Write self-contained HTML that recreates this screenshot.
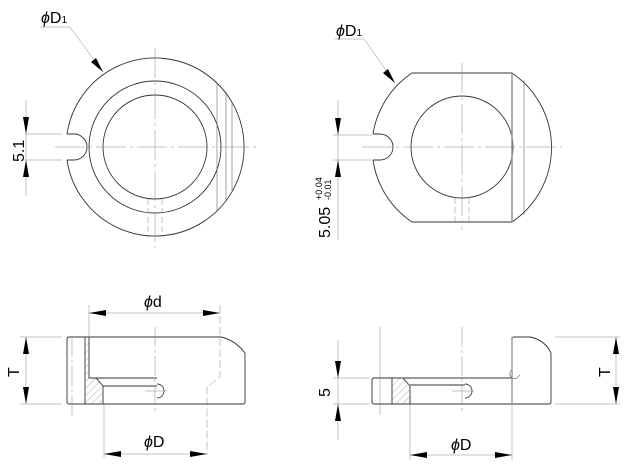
<!DOCTYPE html>
<html><head><meta charset="utf-8"><style>body{margin:0;background:#fff}svg{display:block}text{font-family:"Liberation Sans",sans-serif;fill:#000}</style></head><body>
<svg width="624" height="465" viewBox="0 0 624 465" xmlns="http://www.w3.org/2000/svg">
<defs>
<pattern id="h" width="5" height="5" patternUnits="userSpaceOnUse" patternTransform="rotate(45)"><line x1="0" y1="0" x2="0" y2="5" stroke="#777" stroke-width="0.6"/></pattern>
</defs>
<g fill="none" stroke="#333" stroke-width="0.9">
<!-- top left -->
<path d="M67,134 A89,89 0 1 1 67,160"/>
<path d="M67,134 L74,134 A13,13 0 0 1 74,160 L67,160"/>
<circle cx="155" cy="147" r="66"/>
<circle cx="155" cy="147" r="52"/>
<line x1="217" y1="83" x2="217" y2="211" stroke="#666" stroke-width="0.6"/>
<line x1="226" y1="92" x2="226" y2="202" stroke="#666" stroke-width="0.6"/>
<line x1="232" y1="102" x2="232" y2="192" stroke="#666" stroke-width="0.6"/>
<!-- top right -->
<path d="M412,73 L512,73 A90,90 0 0 1 512,222 L412,222 A90,90 0 0 1 373,160 M373,134 A90,90 0 0 1 412,73"/>
<path d="M373,134 L380,134 A13,13 0 0 1 380,160 L373,160"/>
<circle cx="462" cy="147" r="51"/>
<line x1="512" y1="73" x2="512" y2="222" stroke="#999" stroke-width="1.6"/>
<line x1="524" y1="80" x2="524" y2="215" stroke="#666" stroke-width="0.6"/>
<!-- bottom left -->
<path d="M69,337 L221,337 Q235,340 245,353 L245,402 Q245,404 243,404 L69,404 Q67,404 67,402 L67,339 Q67,337 69,337Z"/>
<polygon points="85,342 89,342 89,378 96,378 103,386 103,404 85,404" fill="url(#h)" stroke="none"/>
<line x1="85" y1="337" x2="85" y2="404"/>
<path d="M89,337 L89,378 L96,378 L103,386 L103,404 M96,378 L157,378 M103,386 L157,386"/>
<path d="M157,384 A7,7 0 0 1 157,398" stroke="#444"/>
<!-- bottom right -->
<path d="M374,378 L512,378 L512,404 L374,404 Q372,404 372,402 L372,380 Q372,378 374,378Z"/>
<path d="M512,378 L512,339 Q512,337 514,337 L530,337 Q545,340 551,353 L551,402 Q551,404 549,404 L512,404"/>
<line x1="512" y1="337" x2="512" y2="404" stroke="#999" stroke-width="1.4"/>
<path d="M512,370 A4,4 0 0 0 517,378 L520,375" stroke="#666" stroke-width="0.7"/>
<polygon points="392,378 403,378 410,386 410,404 392,404" fill="url(#h)" stroke="none"/>
<path d="M392,378 L392,404 M403,378 L410,386 L410,404 M410,385 L465,385"/>
<path d="M465,384 A7,7 0 0 1 465,398" stroke="#444"/>
</g>
<!-- center/thin lines -->
<g stroke="#888" stroke-width="0.5" fill="none">
<line x1="155" y1="48" x2="155" y2="248" stroke-dasharray="30,4,3,4"/>
<line x1="55" y1="147" x2="256" y2="147" stroke-dasharray="30,4,3,4"/>
<line x1="462" y1="63" x2="462" y2="230" stroke-dasharray="30,4,3,4"/>
<line x1="362" y1="147" x2="562" y2="147" stroke-dasharray="30,4,3,4"/>
<line x1="148" y1="199" x2="148" y2="238" stroke-dasharray="6,3"/>
<line x1="162" y1="199" x2="162" y2="238" stroke-dasharray="6,3"/>
<line x1="455" y1="198" x2="455" y2="222" stroke-dasharray="6,3"/>
<line x1="469" y1="198" x2="469" y2="222" stroke-dasharray="6,3"/>
<line x1="155" y1="327" x2="155" y2="413" stroke-dasharray="20,3,3,3"/>
<line x1="145" y1="391" x2="167" y2="391"/>
<line x1="72" y1="337" x2="72" y2="415" stroke-dasharray="20,3,3,3"/>
<path d="M220,305 L220,377 L207,387 L207,455" stroke-dasharray="8,3"/>
<line x1="89" y1="305" x2="89" y2="337"/>
<line x1="104" y1="404" x2="104" y2="458"/>
<line x1="462" y1="327" x2="462" y2="413" stroke-dasharray="20,3,3,3"/>
<line x1="452" y1="391" x2="474" y2="391"/>
<line x1="380" y1="327" x2="380" y2="415"/>
<line x1="410" y1="404" x2="410" y2="460"/>
<line x1="512" y1="404" x2="512" y2="460"/>
<!-- extension lines -->
<line x1="25" y1="134" x2="62" y2="134"/><line x1="25" y1="160" x2="62" y2="160"/>
<line x1="26" y1="100" x2="26" y2="196"/>
<line x1="333" y1="135" x2="372" y2="135"/><line x1="333" y1="160" x2="372" y2="160"/>
<line x1="338" y1="100" x2="338" y2="240"/>
<line x1="20" y1="337" x2="62" y2="337"/><line x1="20" y1="404" x2="62" y2="404"/>
<line x1="26" y1="337" x2="26" y2="404"/>
<line x1="89" y1="313" x2="220" y2="313"/>
<line x1="104" y1="454" x2="207" y2="454"/>
<line x1="333" y1="378" x2="370" y2="378"/><line x1="333" y1="404" x2="370" y2="404"/>
<line x1="338" y1="340" x2="338" y2="440"/>
<line x1="410" y1="455" x2="512" y2="455"/>
<line x1="555" y1="337" x2="620" y2="337"/><line x1="555" y1="404" x2="620" y2="404"/>
<line x1="616" y1="337" x2="616" y2="404"/>
<polyline points="40,27 70,27 103,72"/>
<polyline points="335,39 364,39 395,83"/>
</g>
<!-- arrows -->
<g fill="#000">
<polygon points="23,117 29,117 26,134"/><polygon points="23,177 29,177 26,160"/>
<polygon points="335,118 341,118 338,135"/><polygon points="335,177 341,177 338,160"/>
<polygon points="23,354 29,354 26,337"/><polygon points="23,387 29,387 26,404"/>
<polygon points="106,310 106,316 89,313"/><polygon points="203,310 203,316 220,313"/>
<polygon points="121,451 121,457 104,454"/><polygon points="190,451 190,457 207,454"/>
<polygon points="335,361 341,361 338,378"/><polygon points="335,421 341,421 338,404"/>
<polygon points="427,452 427,458 410,455"/><polygon points="495,452 495,458 512,455"/>
<polygon points="613,354 619,354 616,337"/><polygon points="613,387 619,387 616,404"/>
<polygon points="91,62 96,58 103,72"/>
<polygon points="383,73 388,69 395,83"/>
</g>
<text x="41" y="23" font-size="16" font-style="italic">ϕ<tspan font-style="normal">D</tspan><tspan font-size="10" font-style="normal">1</tspan></text>
<text x="336" y="36" font-size="16" font-style="italic">ϕ<tspan font-style="normal">D</tspan><tspan font-size="10" font-style="normal">1</tspan></text>
<text font-size="16" transform="translate(24,162) rotate(-90)">5.1</text>
<text font-size="16" transform="translate(330,238) rotate(-90)">5.05</text>
<text font-size="9" transform="translate(322,200) rotate(-90)">+0.04</text>
<text font-size="9" transform="translate(331,200) rotate(-90)">-0.01</text>
<text font-size="16" transform="translate(19,377) rotate(-90)">T</text>
<text font-size="16" transform="translate(610,377) rotate(-90)">T</text>
<text font-size="16" transform="translate(330,397) rotate(-90)">5</text>
<text x="144" y="307" font-size="16"><tspan font-style="italic">ϕ</tspan>d</text>
<text x="144" y="447" font-size="16"><tspan font-style="italic">ϕ</tspan>D</text>
<text x="451" y="450" font-size="16"><tspan font-style="italic">ϕ</tspan>D</text>
</svg>
</body></html>
